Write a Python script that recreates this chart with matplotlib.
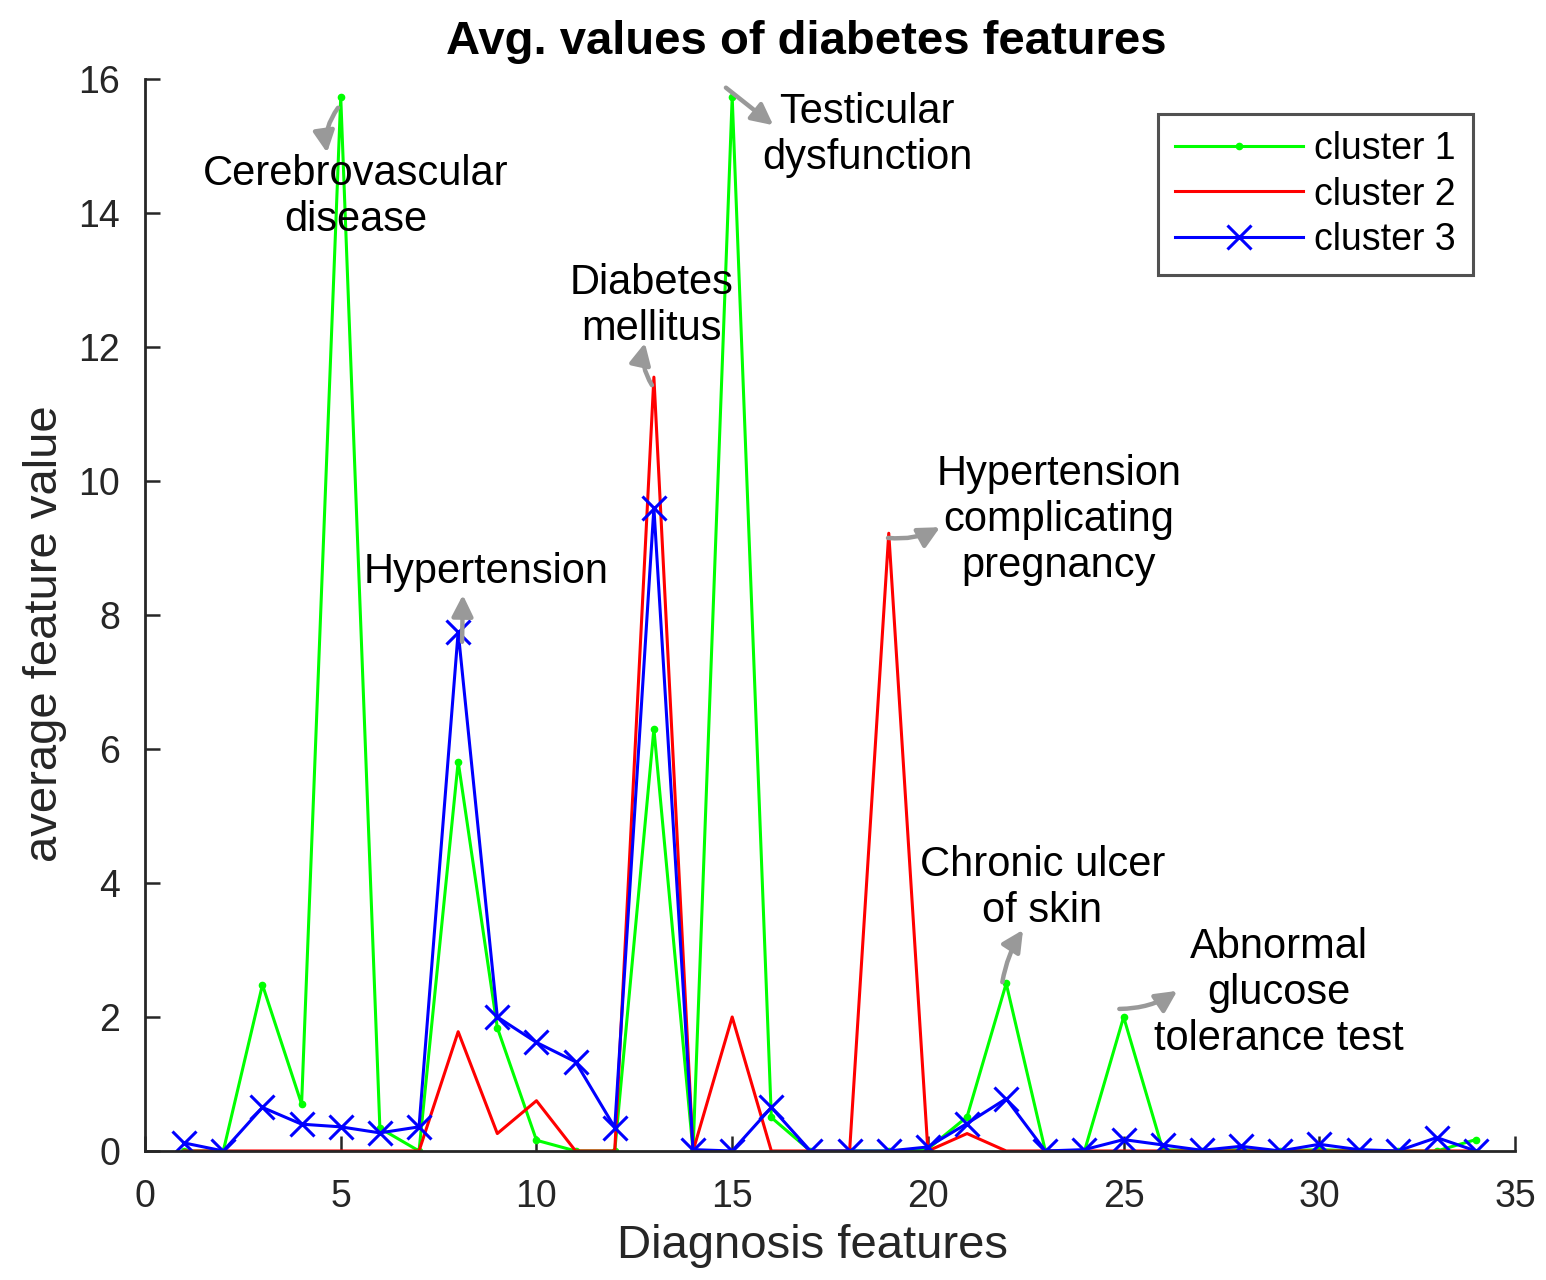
import numpy as np
import matplotlib
matplotlib.use("Agg")
import matplotlib.pyplot as plt

plt.rcParams['font.family'] = ['Liberation Sans', 'DejaVu Sans']

# feature index 1..34
features = list(range(1, 35))

cluster1 = [0.0, 0.0, 2.48, 0.70, 15.73, 0.34, 0.0, 5.81, 1.84, 0.16,
            0.0, 0.0, 6.30, 0.0, 15.73, 0.50, 0.0, 0.0, 0.0, 0.03,
            0.51, 2.50, 0.0, 0.0, 2.00, 0.02, 0.0, 0.02, 0.0, 0.02,
            0.0, 0.0, 0.0, 0.17]

cluster2 = [0.0, 0.0, 0.0, 0.0, 0.0, 0.0, 0.0, 1.78, 0.26, 0.75,
            0.0, 0.0, 11.55, 0.0, 2.00, 0.0, 0.0, 0.0, 9.22, 0.0,
            0.26, 0.0, 0.0, 0.0, 0.0, 0.0, 0.0, 0.0, 0.0, 0.0,
            0.0, 0.0, 0.0, 0.0]

cluster3 = [0.12, 0.0, 0.65, 0.40, 0.36, 0.27, 0.36, 7.75, 2.00, 1.62,
            1.33, 0.35, 9.60, 0.02, 0.0, 0.65, 0.0, 0.0, 0.0, 0.06,
            0.41, 0.78, 0.0, 0.02, 0.17, 0.09, 0.01, 0.07, 0.0, 0.10,
            0.02, 0.0, 0.20, 0.0]

# annotation text, text center (x, y), arrow tail, arrow head, curvature
notes = [
    ("Cerebrovascular\ndisease", (5.39, 14.24), (4.93, 15.57), (4.65, 14.9), 0.2),
    ("Testicular\ndysfunction", (18.45, 15.16), (14.84, 15.87), (16.05, 15.31), 0.0),
    ("Diabetes\nmellitus", (12.95, 12.61), (12.95, 11.43), (12.77, 12.06), -0.2),
    ("Hypertension", (8.71, 8.64), (8.10, 7.60), (8.12, 8.30), 0.0),
    ("Hypertension\ncomplicating\npregnancy", (23.35, 9.42), (18.98, 9.15), (20.31, 9.31), 0.15),
    ("Chronic ulcer\nof skin", (22.92, 3.93), (21.9, 2.52), (22.43, 3.30), -0.1),
    ("Abnormal\nglucose\ntolerance test", (28.97, 2.36), (24.89, 2.12), (26.37, 2.39), 0.15),
]

axis_col = '#262626'

fig = plt.figure(figsize=(15.46, 12.8), dpi=100)
ax = fig.add_axes([0.0938, 0.1008, 0.8862, 0.8375])

ax.plot(features, cluster1, color='#00ff00', lw=2.2, marker='.', markersize=9, label='cluster 1')
ax.plot(features, cluster2, color='#ff0000', lw=2.2, label='cluster 2')
ax.plot(features, cluster3, color='#0000ff', lw=2.2, marker='x', markersize=17,
        markeredgewidth=2.2, label='cluster 3')

for text, txy, tail, head, rad in notes:
    ax.annotate('', xy=head, xytext=tail,
                arrowprops=dict(arrowstyle='-|>', color='#999999', lw=3.2,
                                mutation_scale=32, shrinkA=0, shrinkB=0,
                                connectionstyle=f'arc3,rad={rad}'))
    ax.text(txy[0], txy[1], text, ha='center', va='center', fontsize=30,
            color='black', linespacing=1.2)

ax.set_xlim(0, 35)
ax.set_ylim(0, 16)
ax.set_xticks(np.arange(0, 36, 5))
ax.set_yticks(np.arange(0, 17, 2))
ax.tick_params(direction='in', length=11, width=1.8, labelsize=27, colors=axis_col)
ax.tick_params(axis='x', pad=20)
ax.tick_params(axis='y', pad=18)
for s in ['top', 'right']:
    ax.spines[s].set_visible(False)
for s in ['left', 'bottom']:
    ax.spines[s].set_color(axis_col)
    ax.spines[s].set_linewidth(2)

ax.set_xlabel('Diagnosis features', fontsize=34, color=axis_col)
ax.xaxis.set_label_coords(0.487, -0.068)
ax.set_ylabel('average feature value', fontsize=34, color=axis_col)
ax.yaxis.set_label_coords(-0.057, 0.483)
fig.text(0.5213, 1 - 42 / 1280, 'Avg. values of diabetes features', fontsize=34,
         fontweight='bold', ha='center', va='center')

leg = ax.legend(loc='upper right', bbox_to_anchor=(0.969, 0.967), fontsize=27,
                frameon=True, fancybox=False, handlelength=3.4, borderpad=0.45,
                labelspacing=0.25, handletextpad=0.3, borderaxespad=0)
leg.get_frame().set_edgecolor(axis_col)
leg.get_frame().set_linewidth(2.2)

fig.savefig('out.png', dpi=100)
